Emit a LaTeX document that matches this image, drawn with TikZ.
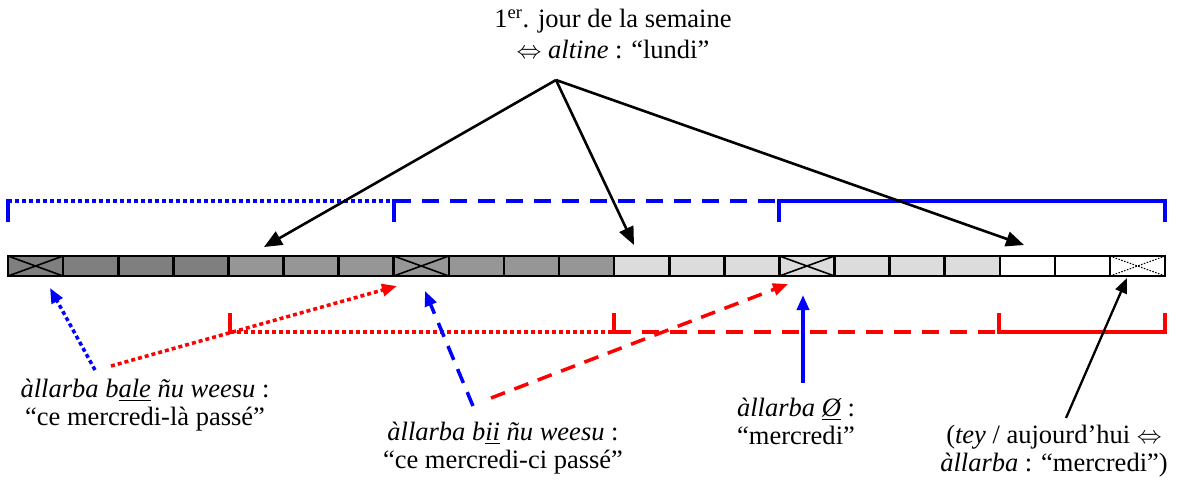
\documentclass[tikz,border=0pt]{standalone}
\usepackage{fontspec}
\setmainfont{Liberation Serif}
\usetikzlibrary{arrows.meta}
\definecolor{dkgray}{RGB}{127,127,127}
\definecolor{mdgray}{RGB}{150,150,150}
\definecolor{ltgray}{RGB}{220,220,220}
\definecolor{pblue}{RGB}{0,0,255}
\definecolor{pred}{RGB}{255,0,0}
\newcommand{\ulx}[1]{\setbox0\hbox{#1}\rlap{\rule[-3.8pt]{\wd0}{1.7pt}}\box0\relax}
\begin{document}
\begin{tikzpicture}[x=1pt,y=-1pt,
  cellbox/.style={draw=black,line width=2.6pt,minimum width=55.1pt,minimum height=20pt,inner sep=0pt,outer sep=0pt},
  lbl/.style={font=\fontsize{26.5}{28}\selectfont,align=center,inner sep=0pt},
  brk/.style={line width=4.2pt},
  dotpat/.style={dash pattern=on 4pt off 3pt},
  dashpat/.style={dash pattern=on 17pt off 11pt},
  arrowdash/.style={dash pattern=on 15pt off 10pt},
  bigtip/.style={-{Triangle[length=18pt,width=15pt]}},
  smalltip/.style={-{Triangle[length=15pt,width=12pt]}},
  conn/.style={line width=2.6pt,bigtip},
  cconn/.style={line width=3.5pt,smalltip},
]
\useasboundingbox (0,0) rectangle (1177,480);

% the bar of days
\foreach \i/\col in {0/dkgray,1/dkgray,2/dkgray,3/dkgray,4/mdgray,5/mdgray,6/mdgray,7/mdgray,8/mdgray,9/mdgray,10/mdgray,11/ltgray,12/ltgray,13/ltgray,14/ltgray,15/ltgray,16/ltgray,17/ltgray,18/white,19/white,20/white}
  \node[cellbox,fill=\col] (c\i) at ({8+55.1*(\i+0.5)},266) {};
\foreach \i in {0,7,14}
  \draw[line width=1.6pt] (c\i.north west) -- (c\i.south east) (c\i.south west) -- (c\i.north east);
\draw[line width=1.1pt,dash pattern=on 1.5pt off 1.5pt] (c20.north west) -- (c20.south east) (c20.south west) -- (c20.north east);

% blue brackets (above)
\draw[pblue,brk] (8,222) -- (8,199);
\draw[pblue,brk,dotpat] (8,201) -- (394,201);
\draw[pblue,brk] (394,222) -- (394,199);
\draw[pblue,brk,dashpat] (394,201) -- (779,201);
\draw[pblue,brk] (779,222) -- (779,201) -- (1165,201) -- (1165,222);

% red brackets (below)
\draw[pred,brk] (230,313) -- (230,334);
\draw[pred,brk,dotpat] (230,332) -- (614,332);
\draw[pred,brk] (614,313) -- (614,334);
\draw[pred,brk,dashpat] (614,332) -- (999,332);
\draw[pred,brk] (999,313) -- (999,332) -- (1165,332) -- (1165,313);

% title and its arrows
\node[lbl,font=\fontsize{26.5}{31}\selectfont,anchor=north] (title) at (613,9)
  {1\textsuperscript{er}. jour de la semaine\\$\Leftrightarrow$ \textit{altine} : “lundi”};
\coordinate (src) at (556,80);
\coordinate (l1) at (264,247);
\coordinate (l2) at (634,245);
\coordinate (l3) at (1024,245);
\draw[conn] (src) -- (l1);
\draw[conn] (src) -- (l2);
\draw[conn] (src) -- (l3);

% labels below
\node[lbl,anchor=north] (bale) at (145,379)
  {\textit{àllarba b\ulx{ale} ñu weesu} :\\“ce mercredi-là passé”};
\node[lbl,anchor=north] (bii) at (503,422)
  {\textit{àllarba b\ulx{ii} ñu weesu} :\\“ce mercredi-ci passé”};
\node[lbl,anchor=north] (zero) at (796,398)
  {\textit{àllarba \ulx{Ø}} :\\“mercredi”};
\node[lbl,anchor=north] (tey) at (1054,425)
  {(\textit{tey} / aujourd’hui $\Leftrightarrow$\\\textit{àllarba} : “mercredi”)};

% arrows from labels to the bar
\coordinate (a1s) at (95,370);  \coordinate (a1e) at (50,288);
\coordinate (a2s) at (111,366); \coordinate (a2e) at (397,286);
\coordinate (a3s) at (473,406); \coordinate (a3e) at (425,291);
\coordinate (a4s) at (491,398); \coordinate (a4e) at (788,284);
\coordinate (a5s) at (803,383); \coordinate (a5e) at (803,295);
\coordinate (a6s) at (1066,418); \coordinate (a6e) at (1127,278);
\draw[pblue,cconn,dotpat] (a1s) -- (a1e);
\draw[pred,cconn,dotpat] (a2s) -- (a2e);
\draw[pblue,cconn,arrowdash] (a3s) -- (a3e);
\draw[pred,cconn,arrowdash] (a4s) -- (a4e);
\draw[pblue,cconn] (a5s) -- (a5e);
\draw[line width=2.3pt,smalltip] (a6s) -- (a6e);
\end{tikzpicture}
\end{document}
